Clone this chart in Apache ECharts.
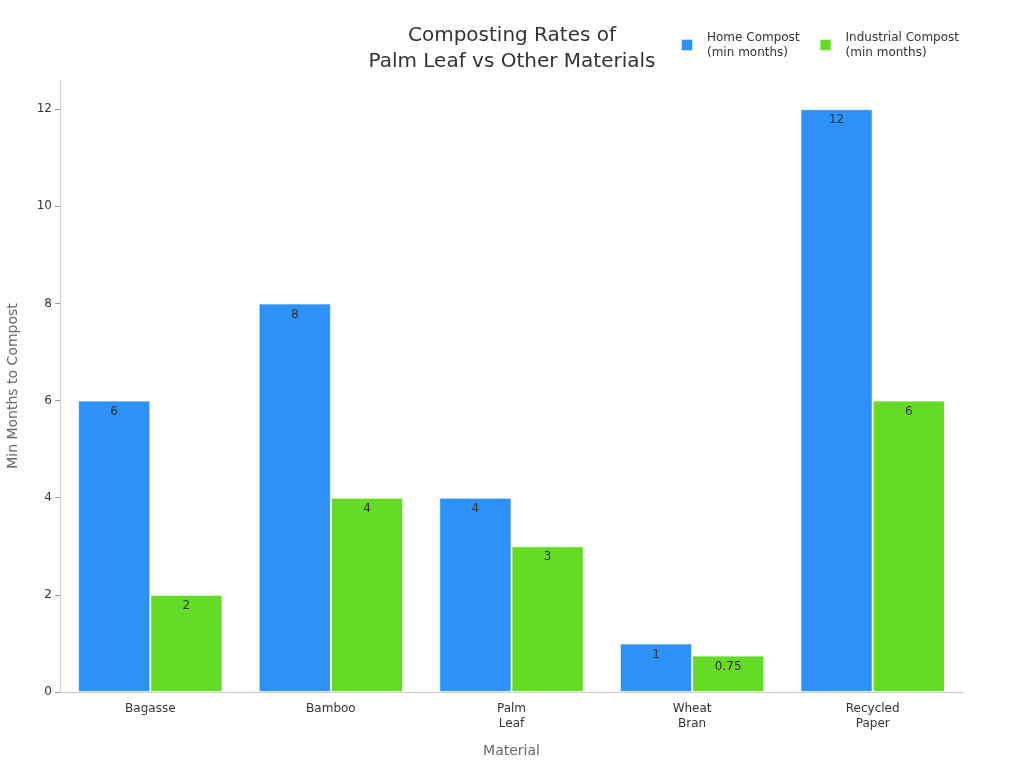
<!DOCTYPE html>
<html>
<head>
<meta charset="utf-8">
<script src="https://cdn.jsdelivr.net/npm/echarts@6/dist/echarts.min.js"></script>
<style>
  html, body { margin: 0; padding: 0; background: #fff; }
  #chart { width: 1024px; height: 768px; }
</style>
</head>
<body>
<div id="chart"></div>
<script>
// data
var materials = ["Bagasse", "Bamboo", "Palm\nLeaf", "Wheat\nBran", "Recycled\nPaper"];
var homeCompost = [6, 8, 4, 1, 12];
var industrialCompost = [2, 4, 3, 0.75, 6];
var seriesNames = ["Home Compost\n(min months)", "Industrial Compost\n(min months)"];
var yTicks = [0, 2, 4, 6, 8, 10, 12];

var font = "DejaVu Sans";
var chart = echarts.init(document.getElementById("chart"));

var barLabel = {
  show: true,
  position: "insideTop",
  color: "#333",
  fontSize: 12,
  fontFamily: font
};

var option = {
  animation: false,
  textStyle: { fontFamily: font },
  title: {
    text: "Composting Rates of\nPalm Leaf vs Other Materials",
    left: "center",
    top: 18,
    textStyle: { fontSize: 20, fontWeight: "normal", color: "#333", lineHeight: 26, fontFamily: font }
  },
  legend: {
    right: 60,
    top: 25,
    itemWidth: 12,
    itemHeight: 12,
    itemGap: 19,
    icon: "rect",
    textStyle: { fontSize: 12, color: "#333", lineHeight: 15, padding: [0, 0, 0, 9], fontFamily: font },
    data: seriesNames
  },
  grid: {
    left: 60,
    right: 61,
    top: 80,
    bottom: 76,
    outerBoundsMode: "none",
    containLabel: false
  },
  xAxis: {
    type: "category",
    data: materials,
    name: "Material",
    nameLocation: "middle",
    nameGap: 52,
    nameTextStyle: { fontSize: 14, color: "#666", fontFamily: font },
    axisLine: { lineStyle: { color: "#ccc" } },
    axisTick: { alignWithLabel: true, lineStyle: { color: "#999" } },
    axisLabel: { color: "#333", fontSize: 12, lineHeight: 15, margin: 9, fontFamily: font }
  },
  yAxis: {
    type: "value",
    min: 0,
    max: 12.6,
    interval: 2,
    name: "Min Months to Compost",
    nameLocation: "middle",
    nameGap: 40,
    nameTextStyle: { fontSize: 14, color: "#666", fontFamily: font },
    axisLine: { show: true, lineStyle: { color: "#ccc" } },
    axisTick: { show: true, customValues: yTicks, lineStyle: { color: "#999" } },
    splitLine: { show: false },
    axisLabel: {
      color: "#333",
      fontSize: 12,
      fontFamily: font,
      customValues: yTicks
    }
  },
  series: [
    {
      name: seriesNames[0],
      type: "bar",
      data: homeCompost,
      barGap: "0%",
      barCategoryGap: "20%",
      itemStyle: { color: "#2e91f8", borderColor: "rgba(255,255,255,0.7)", borderWidth: 1 },
      label: barLabel
    },
    {
      name: seriesNames[1],
      type: "bar",
      data: industrialCompost,
      barGap: "0%",
      barCategoryGap: "20%",
      itemStyle: { color: "#66db27", borderColor: "rgba(255,255,255,0.7)", borderWidth: 1 },
      label: barLabel
    }
  ]
};

chart.setOption(option);
</script>
</body>
</html>
